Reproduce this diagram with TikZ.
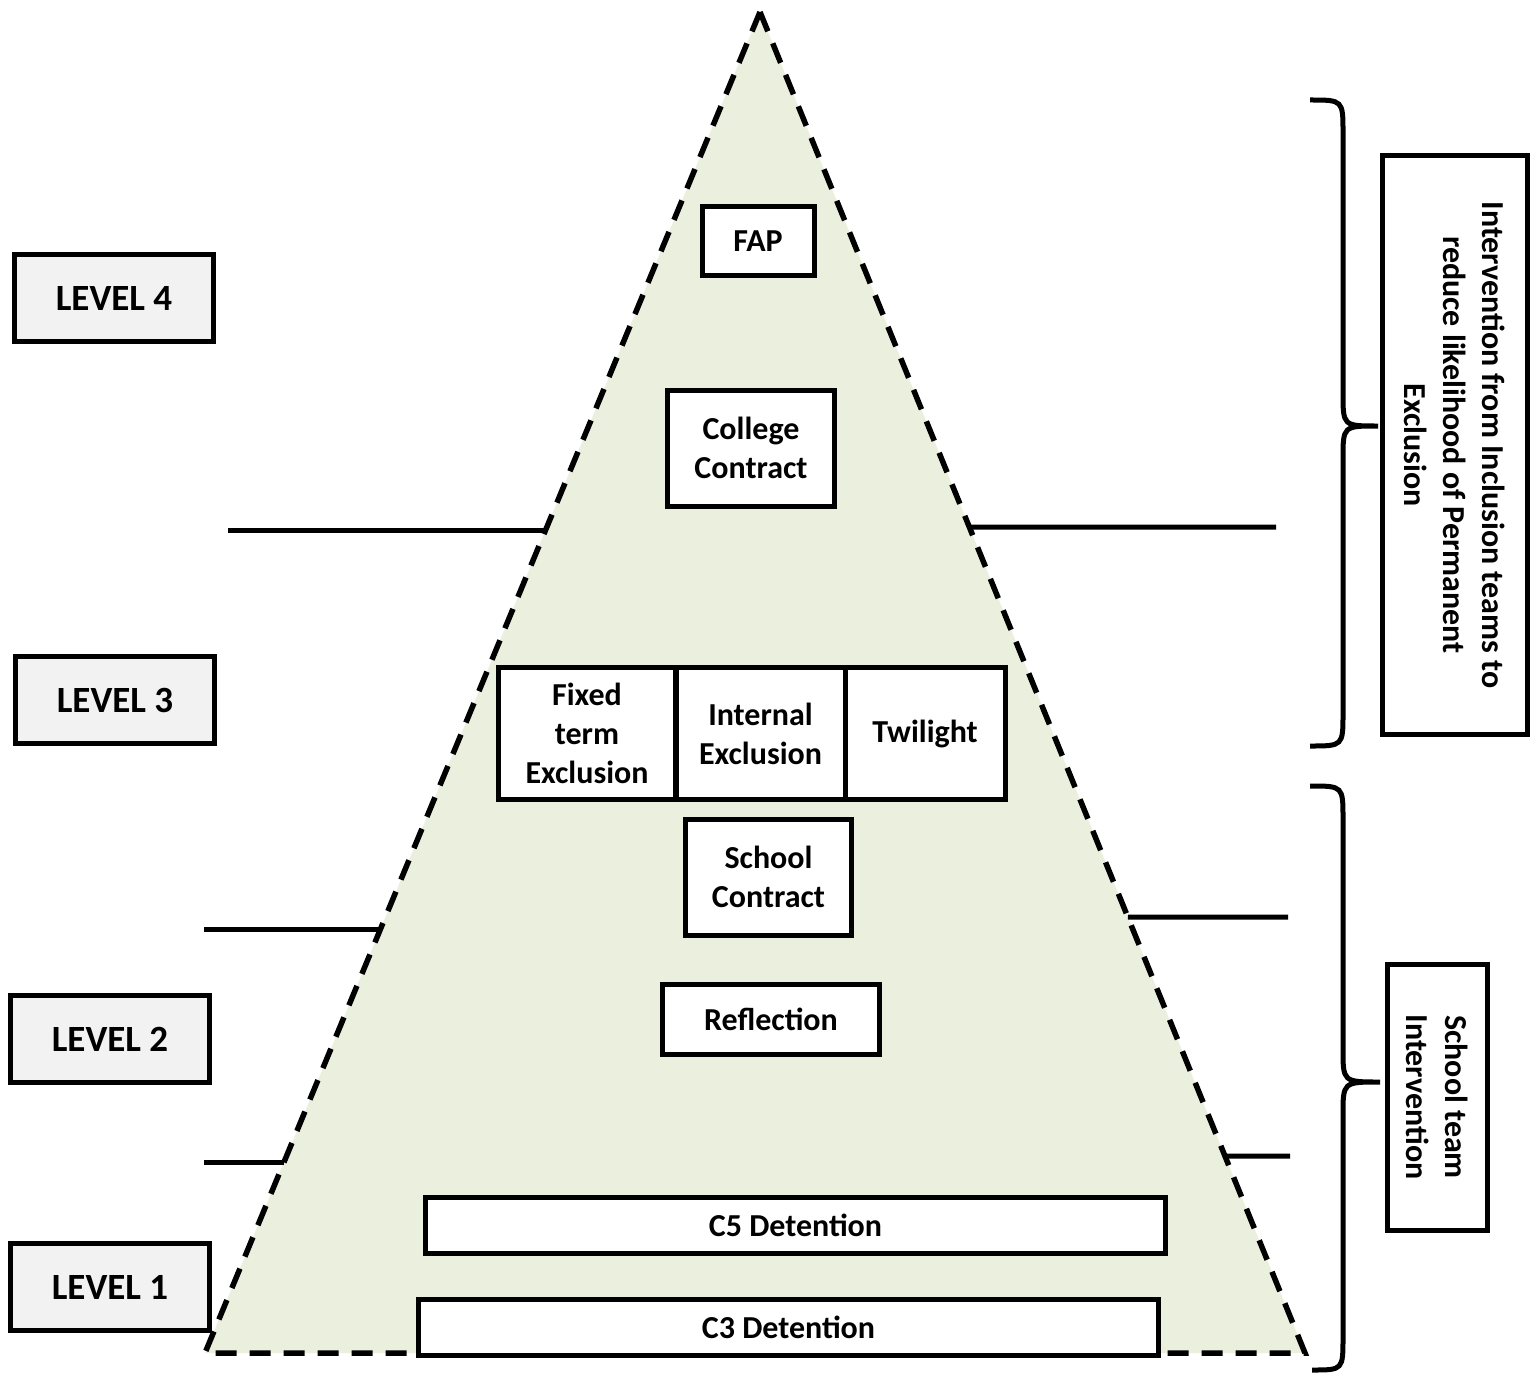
\documentclass[tikz,border=0pt]{standalone}
\usepackage{fontspec}
\setmainfont{Carlito}
\definecolor{pyramidfill}{HTML}{EBEFDE}
\definecolor{levelfill}{HTML}{F2F2F2}

\begin{document}
\begin{tikzpicture}[x=1pt, y=-1pt, font=\fontsize{32}{39}\selectfont\bfseries,
	levelbox/.style={draw, line width=5pt, fill=levelfill, minimum width=199pt, minimum height=87pt, inner sep=0pt, font=\fontsize{37}{44}\selectfont\bfseries},
	stagebox/.style={draw, line width=5pt, fill=white, inner sep=0pt, align=center},
	sidebox/.style={draw, line width=5pt, fill=white, inner sep=0pt, align=center, rotate=-90},
	rule/.style={line width=5pt},
	bracket/.style={line width=5pt}]
	\useasboundingbox (0,0) rectangle (1536,1375);

	\coordinate (apex) at (760,12);
	\coordinate (bl) at (205,1353);
	\coordinate (br) at (1305,1353);
	\draw[line width=5.5pt, dash pattern=on 21pt off 13pt, fill=pyramidfill] (apex) -- (bl) -- (br) -- cycle;

	\draw[rule] (228,530) -- (intersection of apex--bl and 0,530--100,530);
	\draw[rule] (intersection of apex--br and 0,527--100,527) -- (1276,527);
	\draw[rule] (204,929) -- (intersection of apex--bl and 0,929--100,929);
	\draw[rule] (intersection of apex--br and 0,917--100,917) -- (1288,917);
	\draw[rule] (204,1162) -- (intersection of apex--bl and 0,1162--100,1162);
	\draw[rule] (intersection of apex--br and 0,1156--100,1156) -- (1290,1156);

	\draw (114,298) node[levelbox] (l4) {LEVEL 4};
	\draw (115,700) node[levelbox] (l3) {LEVEL 3};
	\draw (110,1039) node[levelbox] (l2) {LEVEL 2};
	\draw (110,1287) node[levelbox] (l1) {LEVEL 1};

	\draw (758,241) node[stagebox, minimum width=112pt, minimum height=68pt] (fap) {FAP};
	\draw (751,448) node[stagebox, minimum width=167pt, minimum height=116pt] (college) {College\\Contract};
	\draw (587,733.5) node[stagebox, minimum width=177.5pt, minimum height=132pt] (fixed) {Fixed\\term\\Exclusion};
	\draw (760.5,733.5) node[stagebox, minimum width=169pt, minimum height=132pt] (internal) {Internal\\Exclusion};
	\draw (925,733.5) node[stagebox, minimum width=160pt, minimum height=132pt] (twilight) {Twilight};
	\draw (768.5,877) node[stagebox, minimum width=166pt, minimum height=116pt] (school) {School\\Contract};
	\draw (771,1019) node[stagebox, minimum width=217pt, minimum height=70pt] (reflection) {Reflection};
	\draw (795.5,1225.5) node[stagebox, minimum width=740pt, minimum height=56pt] (c5) {C5 Detention};
	\draw (788.5,1327) node[stagebox, minimum width=740pt, minimum height=56pt] (c3) {C3 Detention};

	\draw[bracket] (1310,100) .. controls (1343,100) .. (1343,133) -- (1343,393)
		.. controls (1343,426) .. (1378,426) .. controls (1343,426) .. (1343,459)
		-- (1343,713) .. controls (1343,746) .. (1310,746);
	\draw[bracket] (1310,786) .. controls (1343,786) .. (1343,819) -- (1343,1049)
		.. controls (1343,1082) .. (1380,1082) .. controls (1343,1082) .. (1343,1115)
		-- (1343,1337) .. controls (1343,1370) .. (1312,1370);

	\draw (1454.5,445) node[sidebox, minimum width=578pt, minimum height=145pt] (inclusion) {Intervention from Inclusion teams to\\reduce likelihood of Permanent\\Exclusion};
	\draw (1437,1097) node[sidebox, minimum width=266pt, minimum height=100pt] (schoolteam) {School team\\Intervention};
\end{tikzpicture}
\end{document}
